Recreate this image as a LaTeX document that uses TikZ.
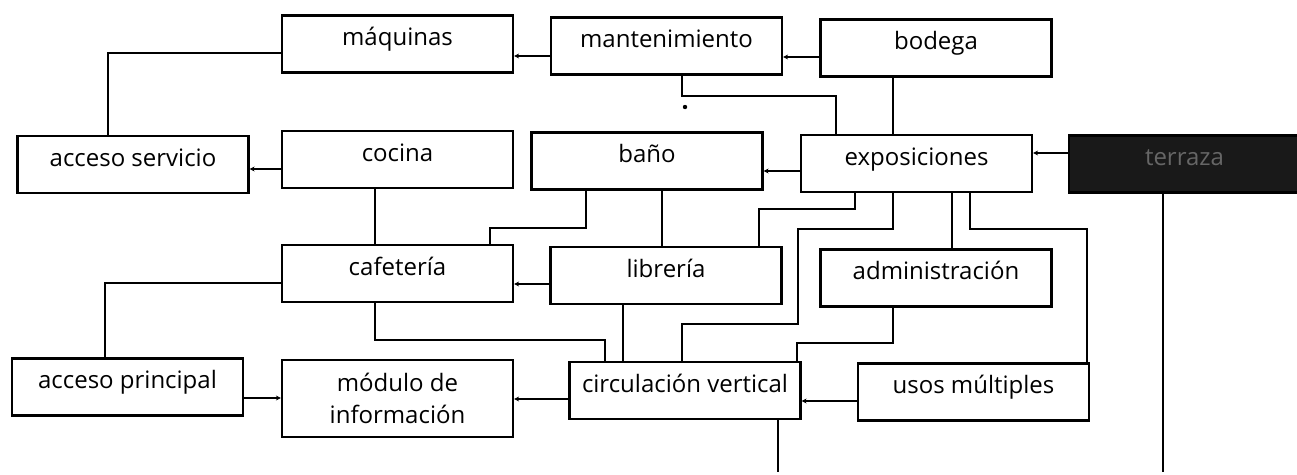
\documentclass[tikz,border=0pt]{standalone}
\usepackage{fontspec}
\setmainfont{Open Sans}
\usetikzlibrary{arrows.meta}
\begin{document}
\begin{tikzpicture}[x=1pt,y=-1pt,
  box/.style={draw, line width=2.2pt, inner sep=0pt, minimum width=231pt, minimum height=57pt,
    text height=30pt, text depth=27pt, font=\fontsize{24}{32}\selectfont},
  twoline/.style={text height={}, text depth={}, align=center, minimum height=77pt},
  darkbox/.style={fill=black!90, text=black!60},
  conn/.style={line width=2.2pt},
  arr/.style={conn, -{Stealth[length=5pt,width=5pt]}}]
\useasboundingbox (0,0) rectangle (1297,474);
\fill[white] (0,0) rectangle (1297,474);
% boxes
\node[box] (maq) at (397.5,44) {máquinas};
\node[box] (mant) at (666.5,46) {mantenimiento};
\node[box] (bod) at (936,48) {bodega};
\node[box] (accserv) at (133,164.5) {acceso servicio};
\node[box] (coc) at (397.5,159.5) {cocina};
\node[box] (ban) at (647,161) {baño};
\node[box] (expo) at (916.5,163.5) {exposiciones};
\node[box,darkbox] (terr) at (1184.5,164) {terraza};
\node[box] (caf) at (397.5,273.5) {cafetería};
\node[box] (lib) at (666,275.5) {librería};
\node[box] (adm) at (936,278) {administración};
\node[box] (accpr) at (127.5,387) {acceso principal};
\node[box,twoline] (mod) at (397.5,398.5) {módulo de\\información};
\node[box] (circ) at (685,390.5) {circulación vertical};
\node[box] (usos) at (973.5,392) {usos múltiples};
\coordinate (tend) at (1163,472);
\coordinate (cend) at (778,472);
% connectors
\draw[conn] (108,0 |- accserv.north) -- (108,53) -- (maq.west |- 0,53);
\draw[arr] (mant.west |- 0,56) -- (maq.east |- 0,56);
\draw[arr] (bod.west |- 0,57) -- (mant.east |- 0,57);
\draw[conn] (682,0 |- mant.south) -- (682,96) -- (836,96) -- (836,0 |- expo.north);
\fill (685,107) circle (2.2pt);
\draw[conn] (893,0 |- bod.south) -- (893,0 |- expo.north);
\draw[arr] (coc.west |- 0,169) -- (accserv.east |- 0,169);
\draw[arr] (expo.west |- 0,171) -- (ban.east |- 0,171);
\draw[arr] (terr.west |- 0,153) -- (expo.east |- 0,153);
\draw[conn] (375,0 |- coc.south) -- (375,0 |- caf.north);
\draw[conn] (586,0 |- ban.south) -- (586,228) -- (490,228) -- (490,0 |- caf.north);
\draw[conn] (662,0 |- ban.south) -- (662,0 |- lib.north);
\draw[conn] (855,0 |- expo.south) -- (855,209) -- (759,209) -- (759,0 |- lib.north);
\draw[conn] (893,0 |- expo.south) -- (893,229) -- (798,229) -- (798,324) -- (682,324) -- (682,0 |- circ.north);
\draw[conn] (952,0 |- expo.south) -- (952,0 |- adm.north);
\draw[conn] (970,0 |- expo.south) -- (970,229) -- (1087,229) -- (1087,0 |- usos.north);
\draw[conn] (1163,0 |- terr.south) -- (tend);
\draw[arr] (lib.west |- 0,284) -- (caf.east |- 0,284);
\draw[conn] (caf.west |- 0,283) -- (105,283) -- (105,0 |- accpr.north);
\draw[conn] (375,0 |- caf.south) -- (375,340) -- (605,340) -- (605,0 |- circ.north);
\draw[conn] (623,0 |- lib.south) -- (623,0 |- circ.north);
\draw[conn] (893,0 |- adm.south) -- (893,343) -- (797,343) -- (797,0 |- circ.north);
\draw[arr] (accpr.east |- 0,398) -- (mod.west |- 0,398);
\draw[arr] (circ.west |- 0,399) -- (mod.east |- 0,399);
\draw[arr] (usos.west |- 0,401) -- (circ.east |- 0,401);
\draw[conn] (778,0 |- circ.south) -- (cend);
\end{tikzpicture}
\end{document}
